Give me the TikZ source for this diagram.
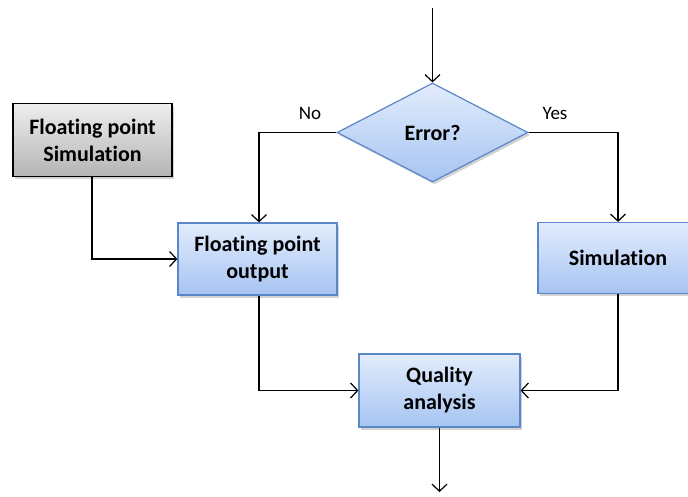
\documentclass[tikz,border=0pt]{standalone}
\usepackage{fontspec}
\setmainfont{Carlito}[Ligatures=NoCommon]
\usetikzlibrary{shapes.geometric,shadows,arrows.meta}
\definecolor{bluetop}{HTML}{E2ECFC}
\definecolor{bluebot}{HTML}{A6C4F2}
\definecolor{blueedge}{HTML}{5A87C8}
\definecolor{graytop}{HTML}{EEEEEE}
\definecolor{graybot}{HTML}{B4B4B4}
\tikzset{
  bluebox/.style={draw=blueedge, line width=1.2pt, top color=bluetop, bottom color=bluebot,
    drop shadow={opacity=0.35, shadow xshift=2pt, shadow yshift=-2.5pt},
    align=center, font=\fontsize{22}{27}\selectfont\bfseries, inner sep=0pt},
  graybox/.style={draw=black, line width=1.2pt, top color=graytop, bottom color=graybot,
    drop shadow={opacity=0.35, shadow xshift=2pt, shadow yshift=-2.5pt},
    align=center, font=\fontsize{22}{27}\selectfont\bfseries, inner sep=0pt},
  conn/.style={draw=black, line width=1.2pt, -{Straight Barb[length=7pt,width=15pt]}},
  lbl/.style={font=\fontsize{19}{22}\selectfont}
}
\begin{document}
\begin{tikzpicture}[x=1pt,y=-1pt]
\useasboundingbox (0,0) rectangle (688,496);
\node[graybox, minimum width=159pt, minimum height=73pt] (fps) at (92.5,140) {Floating point\\Simulation};
\node[bluebox, minimum width=159pt, minimum height=72pt] (fpo) at (257.5,259) {Floating point\\output};
\node[bluebox, diamond, aspect=1.93, minimum width=191pt, minimum height=99pt] (err) at (432.5,132.5) {Error?};
\node[bluebox, minimum width=160pt, minimum height=71pt] (sim) at (618,258) {Simulation};
\node[bluebox, minimum width=161pt, minimum height=73pt] (qa) at (439.5,390.5) {Quality\\analysis};
\coordinate (top) at (432.5,8);
\coordinate (bot) at (439.5,492);
\node[lbl] (no) at (310,113) {No};
\node[lbl] (yes) at (555,113) {Yes};
\draw[conn] (top) -- (err.north);
\draw[conn] (err.west) -| (fpo.north -| 259,0);
\draw[conn] (err.east) -| (sim.north);
\draw[conn] (fps.south -| 92,0) |- (fpo.west);
\draw[conn] (fpo.south -| 259,0) |- (qa.west);
\draw[conn] (sim.south) |- (qa.east);
\draw[conn] (qa.south) -- (bot);
\end{tikzpicture}
\end{document}
